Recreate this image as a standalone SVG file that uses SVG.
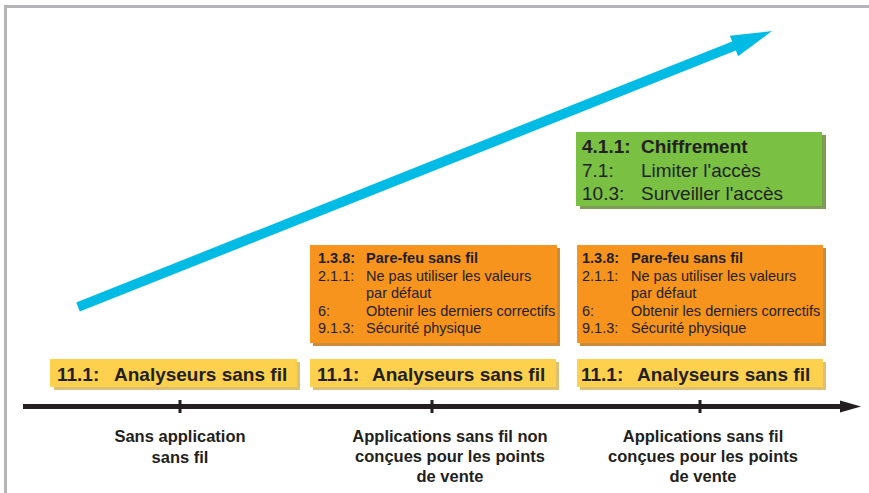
<svg xmlns="http://www.w3.org/2000/svg" width="869" height="493" viewBox="0 0 869 493">
<style>
text{font-family:"Liberation Sans",Arial,sans-serif;fill:#231f20}
.b{font-weight:bold}
.g{font-size:19px}
.o{font-size:14.5px}
.y{font-size:19px;font-weight:bold}
.lab{font-size:16.5px;font-weight:bold;text-anchor:middle}
.ysh{fill:#dcc073}.yb{fill:#fdd04e}
.osh{fill:#c98c3e}.ob{fill:#f7941d}
.gsh{fill:#7f9c55}.gb{fill:#79c043}
</style>
<rect width="869" height="493" fill="#fff"/>
<path d="M5.5 493V6.5H869" fill="none" stroke="#b5b5b8" stroke-width="3"/>
<g id="trend-arrow">
<polygon points="76.2,302.4 732.2,41.4 729.9,35.8 772,31 738.1,56.2 735.8,50.6 79.8,311.6" fill="#00bce4"/>
</g>
<g id="connectors">
<line x1="23" y1="406.5" x2="842" y2="406.5" stroke="#231f20" stroke-width="5"/>
<polygon points="840,400.5 861,406.5 840,412.5" fill="#231f20"/>
<rect x="178.5" y="400" width="3" height="13" fill="#231f20"/>
<rect x="430.5" y="400" width="3" height="13" fill="#231f20"/>
<rect x="698.5" y="400" width="3" height="13" fill="#231f20"/>
</g>
<g id="green-box">
<rect class="gsh" x="580" y="135" width="246" height="74"/>
<rect class="gb" x="576" y="132" width="246" height="74"/>
<text class="g" x="582" y="153"><tspan class="b">4.1.1:</tspan><tspan class="b" x="641">Chiffrement</tspan></text>
<text class="g" x="582" y="177">7.1:<tspan x="641">Limiter l'accès</tspan></text>
<text class="g" x="582" y="200">10.3:<tspan x="641">Surveiller l'accès</tspan></text>
</g>
<g id="orange-box-1">
<rect class="osh" x="313" y="248" width="247" height="98"/>
<rect class="ob" x="310" y="245" width="247" height="98"/>
<text class="o" x="318" y="263"><tspan class="b">1.3.8:</tspan><tspan class="b" x="366">Pare-feu sans fil</tspan></text>
<text class="o" x="318" y="281">2.1.1:<tspan x="366">Ne pas utiliser les valeurs</tspan></text>
<text class="o" x="366" y="298">par défaut</text>
<text class="o" x="318" y="316">6:<tspan x="366">Obtenir les derniers correctifs</tspan></text>
<text class="o" x="318" y="333">9.1.3:<tspan x="366">Sécurité physique</tspan></text>
</g>
<g id="orange-box-2">
<rect class="osh" x="580" y="248" width="246" height="98"/>
<rect class="ob" x="577" y="245" width="246" height="98"/>
<text class="o" x="582" y="263"><tspan class="b">1.3.8:</tspan><tspan class="b" x="631">Pare-feu sans fil</tspan></text>
<text class="o" x="582" y="281">2.1.1:<tspan x="631">Ne pas utiliser les valeurs</tspan></text>
<text class="o" x="631" y="298">par défaut</text>
<text class="o" x="582" y="316">6:<tspan x="631">Obtenir les derniers correctifs</tspan></text>
<text class="o" x="582" y="333">9.1.3:<tspan x="631">Sécurité physique</tspan></text>
</g>
<g id="yellow-box-1">
<rect class="ysh" x="54" y="362" width="246" height="28"/>
<rect class="yb" x="50" y="359" width="247" height="28"/>
<text class="y" x="57" y="381">11.1:<tspan x="114">Analyseurs sans fil</tspan></text>
</g>
<g id="yellow-box-2">
<rect class="ysh" x="313" y="362" width="246" height="28"/>
<rect class="yb" x="310" y="359" width="246" height="28"/>
<text class="y" x="317" y="381">11.1:<tspan x="372">Analyseurs sans fil</tspan></text>
</g>
<g id="yellow-box-3">
<rect class="ysh" x="580" y="362" width="246" height="28"/>
<rect class="yb" x="577" y="359" width="246" height="28"/>
<text class="y" x="581" y="381">11.1:<tspan x="637">Analyseurs sans fil</tspan></text>
</g>
<g id="label-1">
<text class="lab" x="180" y="442">Sans application</text>
<text class="lab" x="180" y="463">sans fil</text>
</g>
<g id="label-2">
<text class="lab" x="450" y="442">Applications sans fil non</text>
<text class="lab" x="450" y="462">conçues pour les points</text>
<text class="lab" x="450" y="482">de vente</text>
</g>
<g id="label-3">
<text class="lab" x="703" y="442">Applications sans fil</text>
<text class="lab" x="703" y="462">conçues pour les points</text>
<text class="lab" x="703" y="482">de vente</text>
</g>
</svg>
